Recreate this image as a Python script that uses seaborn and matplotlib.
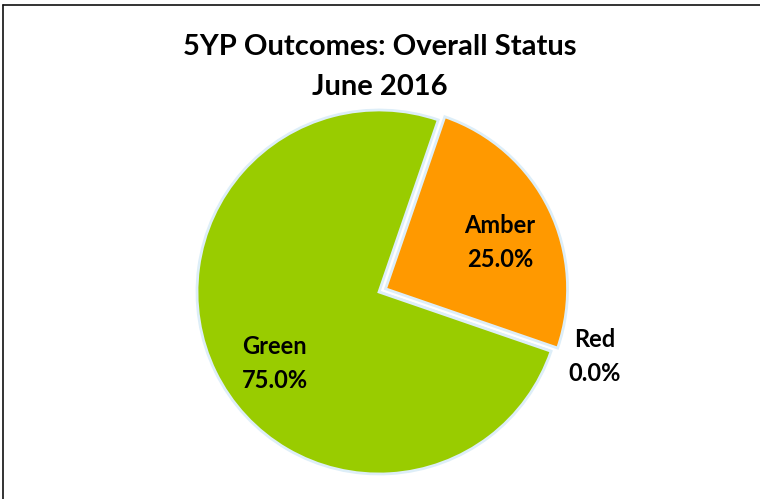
import matplotlib
matplotlib.use("Agg")
import matplotlib.pyplot as plt
import seaborn as sns
import numpy as np
from matplotlib.lines import Line2D

# chart data
categories = ["Amber", "Red", "Green"]
values = [25, 0, 75]
colors = ["#FF9900", "#FF0000", "#99CC00"]
explode = [0.04, 0, 0]
title = "5YP Outcomes: Overall Status\nJune 2016"

sns.set_theme(style="white")
plt.rcParams["font.family"] = ["Lato", "DejaVu Sans"]
plt.rcParams["text.color"] = "black"

W, H = 760, 499
fig = plt.figure(figsize=(W / 100, H / 100), dpi=100)
ax = fig.add_axes([0, 0, 1, 1])

total = sum(values)
labels = [f"{c}\n{v / total * 100:.1f}%" for c, v in zip(categories, values)]

wedges, texts = ax.pie(
    values,
    labels=labels,
    colors=colors,
    explode=explode,
    startangle=71,
    counterclock=False,
    labeldistance=0.68,
    wedgeprops=dict(edgecolor="#DDEEF8", linewidth=2.0),
    textprops=dict(fontsize=17, fontweight="bold", color="black",
                   ha="center", va="center", linespacing=1.6),
)

# pixel scale: center at (379, 292) px, radius 182 px
r_px, cx, cy = 182, 379, 292

# small label nudges (px, x right / y down), like Excel's placement
nudge = {"Amber": (3, 8), "Red": (2, -8), "Green": (7, 17)}
for w, t, v, c in zip(wedges, texts, values, categories):
    t.set_ha("center")
    x, y = t.get_position()
    if v == 0:
        ang = np.deg2rad(w.theta1)
        x, y = 1.24 * np.cos(ang), 1.22 * np.sin(ang)
    dx, dy = nudge[c]
    t.set_position((x + dx / r_px, y - dy / r_px))

ax.set_xlim(-cx / r_px, (W - cx) / r_px)
ax.set_ylim(-(H - cy) / r_px, cy / r_px)
ax.set_aspect("auto")
ax.axis("off")

fig.text(0.5, 1 - 67 / H, title, ha="center", va="center", color="black",
         fontsize=21, fontweight="bold", linespacing=1.65)

# frame lines (top and left)
fig.add_artist(Line2D([3.5 / W, 1], [1 - 4.5 / H, 1 - 4.5 / H],
                      transform=fig.transFigure, color="#111111", lw=1.2))
fig.add_artist(Line2D([3.5 / W, 3.5 / W], [0, 1 - 4.5 / H],
                      transform=fig.transFigure, color="#111111", lw=1.2))

fig.savefig("out.png", dpi=100)
